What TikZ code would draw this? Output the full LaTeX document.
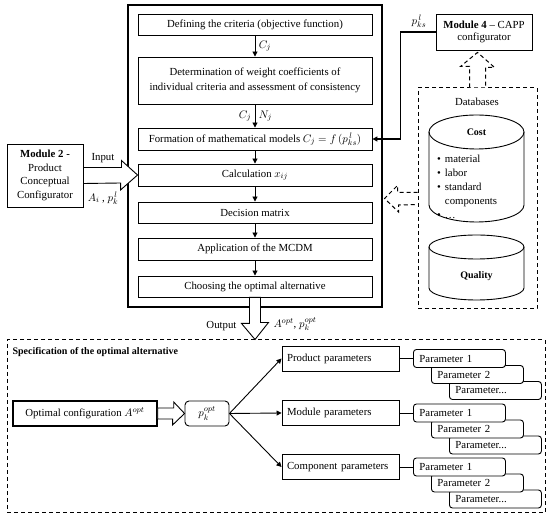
\documentclass[tikz,border=0pt]{standalone}
\usepackage{fontspec}
\setmainfont{Liberation Serif}
\usetikzlibrary{arrows.meta,positioning}

\tikzset{
  stepbox/.style={draw,line width=0.9pt,minimum width=234pt,inner sep=1pt,align=center},
  parbox/.style={draw,line width=0.9pt,text width=107pt,inner xsep=5pt,minimum height=25pt,align=left},
  valbox/.style={draw,fill=white,line width=0.9pt,rounded corners=3pt,text width=80pt,inner xsep=6pt,inner ysep=1pt,minimum height=18pt,align=left},
  flow/.style={-{Triangle[length=5pt,width=5pt]},line width=0.9pt},
  hollow/.style={draw,line width=0.9pt,fill=white},
  dashline/.style={line width=1pt,dash pattern=on 4pt off 3pt},
}

\begin{document}
\begin{tikzpicture}[x=1pt,y=-1pt,font=\fontsize{10.8}{12.5}\selectfont]
  \useasboundingbox (0,0) rectangle (550,518);

  % MCDM procedure
  \node[draw,line width=1.1pt,minimum width=254pt,minimum height=302pt,inner sep=0pt] (frame) at (255,156) {};
  \node[stepbox,minimum height=21pt] (crit) at (255,24.5) {Defining the criteria (objective function)};
  \node[stepbox,minimum height=47pt,font=\fontsize{10.8}{15}\selectfont] (weight) at (255,80.5) {Determination of weight coefficients of\\individual criteria and assessment of consistency};
  \node[stepbox,minimum height=22pt] (model) at (255,139) {Formation of mathematical models $C_j = f\,(p_{ks}^{\,l})$};
  \node[stepbox,minimum height=22pt] (calc) at (255,175) {Calculation $x_{ij}$};
  \node[stepbox,minimum height=21pt] (matrix) at (255,212.5) {Decision matrix};
  \node[stepbox,minimum height=22pt] (mcdm) at (255,249) {Application of the MCDM};
  \node[stepbox,minimum height=21pt] (choose) at (255,286.5) {Choosing the optimal alternative};

  \draw[flow] (crit) -- node[right] {$C_j$} (weight);
  \draw[flow] (weight) -- node[left] {$C_j$} node[right] {$N_j$} (model);
  \draw[flow] (model) -- (calc);
  \draw[flow] (calc) -- (matrix);
  \draw[flow] (matrix) -- (mcdm);
  \draw[flow] (mcdm) -- (choose);

  % input from module 2
  \node[draw,line width=0.9pt,minimum width=76pt,minimum height=63pt,inner sep=1pt,align=center,font=\fontsize{10.8}{13.5}\selectfont] (mod2) at (45,175.5) {\textbf{Module 2 -}\\Product\\Conceptual\\Configurator};
  \draw[hollow] ([yshift=8pt]mod2.east) -- ++(38,0) -- ++(0,-7) -- (calc.west) -- ++(-17,15) -- ++(0,-7) -- ([yshift=-8pt]mod2.east) -- cycle;
  \node (input) at (103,158) {Input};
  \node (inval) at (103,198) {$A_i$ , $p_k^{\,l}$};

  % module 4 and databases
  \node[draw,line width=0.9pt,minimum width=96pt,minimum height=36pt,inner sep=1pt,align=center] (mod4) at (484,32) {\textbf{Module 4} -- CAPP\\configurator};
  \draw[flow,line width=1.2pt] (mod4.west) -- ++(-35,0) |- (model.east);
  \node (pks) at (419,21) {$p_{ks}^{\,l}$};

  \node[draw,dashline,minimum width=119pt,minimum height=221pt,inner sep=0pt] (dbase) at (477.5,198.5) {};
  \node (dbtitle) at (477,102) {Databases};

  \draw[line width=0.9pt,fill=white] (429,132) -- (429,205) arc[start angle=180,end angle=360,x radius=47.5pt,y radius=17pt] -- (524,132);
  \draw[line width=0.9pt] (476.5,132) ellipse[x radius=47.5pt,y radius=17pt];
  \node[font=\bfseries] (cost) at (476.5,132) {Cost};
  \node[anchor=north west,inner sep=0pt,font=\fontsize{10.8}{14}\selectfont] (costlist) at (437,153) {\begin{tabular}{@{}c@{\hspace{4pt}}l@{}}
    \textbullet & material\\
    \textbullet & labor\\
    \textbullet & standard\\
                & components\\
    \textbullet & \ldots
  \end{tabular}};

  \draw[line width=0.9pt,fill=white] (429,247) -- (429,288) arc[start angle=180,end angle=360,x radius=47.5pt,y radius=12pt] -- (524,247);
  \draw[line width=0.9pt] (476.5,247) ellipse[x radius=47.5pt,y radius=12pt];
  \node[font=\bfseries] (quality) at (476.5,276) {Quality};

  \draw[dashline,fill=white] ([yshift=6pt]dbase.west) -- ++(-20,0) -- ++(0,-7) -- ([xshift=2pt]frame.east |- dbase.west) -- ++(14,13.5) -- ++(0,-7) -- ([yshift=-6pt]dbase.west);
  \draw[dashline,fill=white] ([xshift=-8pt]dbase.north) -- ++(0,-21) -- ++(-9,0) -- ([yshift=-2pt]mod4.south -| dbase.north) -- ++(17,15) -- ++(-9,0) -- ([xshift=8pt]dbase.north);

  % specification of the optimal alternative
  \node[draw,dashline,minimum width=538pt,minimum height=173pt,inner sep=0pt] (spec) at (276,426.5) {};
  \node[anchor=west,font=\bfseries] (spectitle) at (9,352) {Specification of the optimal alternative};

  \draw[hollow] ([xshift=-5.5pt]choose.south) -- ++(0,26) -- ++(-8,0) -- (choose.south |- spec.north) -- ++(13.5,-17) -- ++(-8,0) -- ([xshift=5.5pt]choose.south) -- cycle;
  \node[anchor=east] (output) at (240,326) {Output};
  \node[anchor=west] (outval) at (270,324) {$A^{opt}$, $p_k^{opt}$};

  \node[draw,line width=1.4pt,minimum width=144pt,minimum height=25pt] (optconf) at (85,413.5) {Optimal configuration $A^{opt}$};
  \node[draw,line width=0.9pt,rounded corners=4pt,minimum width=44pt,minimum height=25pt] (pk) at (207,413.5) {$p_k^{opt}$};
  \draw[hollow] ([yshift=5.5pt]optconf.east) -- ++(16,0) -- ++(0,-6) -- (pk.west) -- ++(-12,11.5) -- ++(0,-6) -- ([yshift=-5.5pt]optconf.east) -- cycle;

  \node[parbox] (prod) at (340.5,358.5) {Product parameters};
  \node[parbox] (mod) at (340.5,413) {Module parameters};
  \node[parbox] (comp) at (340.5,467) {Component parameters};

  \foreach \g in {prod,mod,comp}{
    \draw[flow] (pk.east) -- (\g.west);
    \node[valbox] (\g-c) at ([xshift=96pt,yshift=-32pt]\g.east) {Parameter...};
    \node[valbox] (\g-b) at ([xshift=78pt,yshift=-16pt]\g.east) {Parameter 2};
    \node[valbox] (\g-a) at ([xshift=60pt]\g.east) {Parameter 1};
    \draw[line width=0.9pt] (\g.east) -- (\g.east -| \g-a.west);
  }
\end{tikzpicture}
\end{document}
